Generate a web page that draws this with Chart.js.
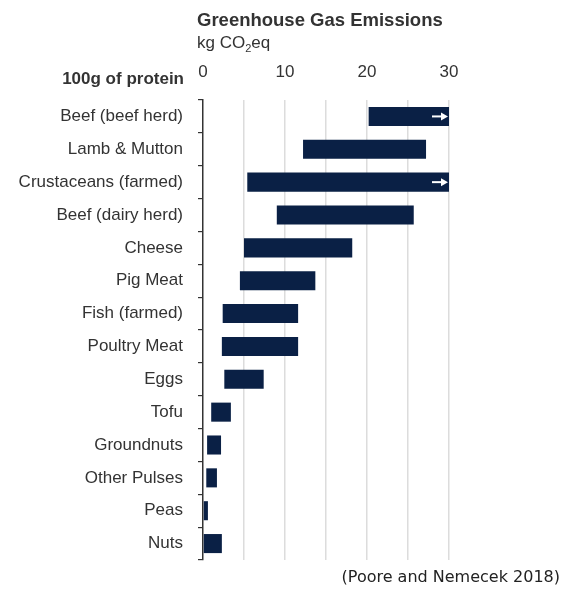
<!DOCTYPE html>
<html>
<head>
<meta charset="utf-8">
<script src="https://cdn.jsdelivr.net/npm/chart.js@4.4.1/dist/chart.umd.min.js"></script>
<style>
  html, body { margin: 0; padding: 0; background: #fff; }
  #wrap { position: relative; width: 562px; height: 592px; overflow: hidden; }
  #c { position: absolute; left: 0; top: 0; }
  .txt { position: absolute; white-space: nowrap; color: #333; font-family: "Liberation Sans", Arial, sans-serif; }
  #title { left: 197px; top: 9px; font-size: 18.5px; line-height: 22px; font-weight: bold; }
  #sub { left: 197px; top: 33px; font-size: 17px; line-height: 20px; }
  #sub sub { font-size: 11px; vertical-align: -4px; line-height: 0; }
  #unit { right: 378px; top: 69px; font-size: 17px; line-height: 20px; font-weight: bold; }
  #cap { right: 2px; top: 568px; font-size: 16px; line-height: 18px; font-family: "DejaVu Sans", sans-serif; color: #222; }
</style>
</head>
<body>
<div id="wrap">
  <canvas id="c" width="562" height="592"></canvas>
  <div class="txt" id="title">Greenhouse Gas Emissions</div>
  <div class="txt" id="sub">kg CO<sub>2</sub>eq</div>
  <div class="txt" id="unit">100g of protein</div>
  <div class="txt" id="cap">(Poore and Nemecek 2018)</div>
</div>
<script>
const categories = ["Beef (beef herd)", "Lamb & Mutton", "Crustaceans (farmed)", "Beef (dairy herd)", "Cheese", "Pig Meat", "Fish (farmed)", "Poultry Meat", "Eggs", "Tofu", "Groundnuts", "Other Pulses", "Peas", "Nuts"];
const lowValues  = [20.2, 12.2, 5.4, 9.0, 5.0, 4.5, 2.4, 2.3, 2.6, 1.0, 0.5, 0.4, 0.0, 0.0];
const highValues = [30, 27.2, 30, 25.7, 18.2, 13.7, 11.6, 11.6, 7.4, 3.4, 2.2, 1.7, 0.6, 2.3];
const continuesBeyondAxis = [true, false, true, false, false, false, false, false, false, false, false, false, false, false];
const xTickValues = [0, 10, 20, 30];

const barColor = "#0a2045";
const textColor = "#333333";

const arrowPlugin = {
  id: "arrows",
  afterDatasetsDraw(chart) {
    const meta = chart.getDatasetMeta(0);
    const ctx = chart.ctx;
    ctx.save();
    ctx.strokeStyle = "#ffffff";
    ctx.fillStyle = "#ffffff";
    ctx.lineWidth = 2;
    meta.data.forEach((bar, i) => {
      if (!continuesBeyondAxis[i]) return;
      const xEnd = bar.x - 1;
      const y = bar.y;
      ctx.beginPath();
      ctx.moveTo(xEnd - 16, y);
      ctx.lineTo(xEnd - 5, y);
      ctx.stroke();
      ctx.beginPath();
      ctx.moveTo(xEnd, y);
      ctx.lineTo(xEnd - 7, y - 4);
      ctx.lineTo(xEnd - 7, y + 4);
      ctx.closePath();
      ctx.fill();
    });
    ctx.restore();
  }
};

new Chart(document.getElementById("c"), {
  type: "bar",
  data: {
    labels: categories,
    datasets: [{
      data: lowValues.map((l, i) => [l, highValues[i]]),
      backgroundColor: barColor,
      borderWidth: 0,
      borderSkipped: false,
      categoryPercentage: 1,
      barPercentage: 0.58
    }]
  },
  options: {
    indexAxis: "y",
    responsive: false,
    animation: false,
    layout: { padding: { left: 0, right: 113, top: 0, bottom: 32 } },
    plugins: { legend: { display: false }, tooltip: { enabled: false }, title: { display: false } },
    scales: {
      x: {
        type: "linear",
        position: "top",
        min: 0,
        max: 30,
        afterFit(scale) { scale.height = 100; },
        border: { display: false },
        grid: {
          drawTicks: false,
          color: (c) => (c.tick && c.tick.value === 0) ? "rgba(0,0,0,0)" : "#dcdcdc",
          lineWidth: 1.5
        },
        ticks: {
          stepSize: 5,
          padding: 17,
          color: textColor,
          font: { family: "'Liberation Sans', Arial, sans-serif", size: 17 },
          callback: (v) => xTickValues.includes(v) ? String(v) : ""
        }
      },
      y: {
        afterFit(scale) { scale.width = 203; },
        border: { display: true, color: "#333", width: 1.5 },
        grid: {
          offset: true,
          drawOnChartArea: false,
          drawTicks: true,
          tickLength: 5,
          color: "#333",
          lineWidth: 1.2
        },
        ticks: {
          padding: 15,
          color: textColor,
          font: { family: "'Liberation Sans', Arial, sans-serif", size: 17 }
        }
      }
    }
  },
  plugins: [arrowPlugin]
});
</script>
</body>
</html>
